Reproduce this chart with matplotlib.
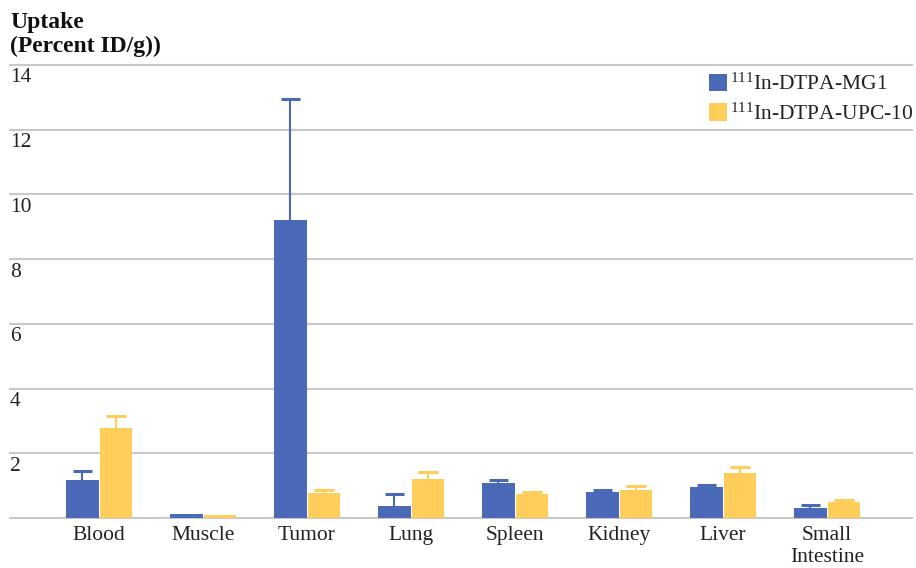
import matplotlib
matplotlib.use("Agg")
import matplotlib.pyplot as plt
import numpy as np

categories = ["Blood", "Muscle", "Tumor", "Lung", "Spleen", "Kidney", "Liver", "Small\nIntestine"]
mg1_values = [1.18, 0.12, 9.20, 0.37, 1.08, 0.80, 0.96, 0.31]
mg1_errors = [0.27, 0.0, 3.74, 0.36, 0.10, 0.08, 0.07, 0.10]
upc_values = [2.79, 0.08, 0.77, 1.21, 0.74, 0.87, 1.39, 0.50]
upc_errors = [0.37, 0.0, 0.11, 0.20, 0.07, 0.13, 0.19, 0.07]
series_labels = [r"$^{111}$In-DTPA-MG1", r"$^{111}$In-DTPA-UPC-10"]
y_ticks = [0, 2, 4, 6, 8, 10, 12, 14]
y_tick_labels = ["", "2", "4", "6", "8", "10", "12", "14"]

plt.rcParams["font.family"] = ["Liberation Serif", "DejaVu Serif"]
plt.rcParams["mathtext.fontset"] = "custom"
plt.rcParams["mathtext.rm"] = "Liberation Serif"
plt.rcParams["mathtext.it"] = "Liberation Serif"

blue = "#4A69B6"
yellow = "#FFCE5A"
grid_c = "#C9C9C9"

W, H = 916, 568
fig = plt.figure(figsize=(W / 100, H / 100), dpi=100)
ax = fig.add_axes([10 / W, 1 - 518 / H, (912 - 10) / W, (518 - 65) / H])

x = np.arange(len(categories))
bw = 0.31
off = 0.16
cap_half = 0.095
ax.bar(x - off, mg1_values, bw, color=blue, label=series_labels[0], zorder=3)
ax.bar(x + off, upc_values, bw, color=yellow, label=series_labels[1], zorder=3)

for xs, vals, errs, col in [(x - off, mg1_values, mg1_errors, blue),
                            (x + off, upc_values, upc_errors, yellow)]:
    for xi, v, e in zip(xs, vals, errs):
        if e <= 0:
            continue
        ax.vlines(xi, v, v + e, color=col, lw=1.5, zorder=4)
        ax.hlines(v + e, xi - cap_half, xi + cap_half, color=col, lw=2.2, zorder=4)

ax.set_xlim(-0.856, 7.817)
ax.set_ylim(0, 14)
for v in y_ticks:
    ax.axhline(v, color=grid_c, lw=1.5, zorder=1, clip_on=False)
for v, lab in zip(y_ticks, y_tick_labels):
    if lab:
        ax.annotate(lab, xy=(0, v), xycoords=("axes fraction", "data"),
                    xytext=(0, -2.5), textcoords="offset points",
                    ha="left", va="top", fontsize=15.5, color="#222222")

ax.set_yticks([])
ax.set_xticks(x)
ax.set_xticklabels(categories, fontsize=15.5, color="#222222", linespacing=1.22)
ax.tick_params(axis="x", length=0, pad=6)
for s in ax.spines.values():
    s.set_visible(False)

fig.text(10 / W, 1 - 12 / H, "Uptake\n(Percent ID/g))", ha="left", va="top",
         fontsize=17, fontweight="bold", color="#111111", linespacing=1.2)

leg = ax.legend(loc="upper right", bbox_to_anchor=(1.016, 1.01), frameon=False,
                fontsize=15.5, handlelength=0.85, handleheight=0.85,
                handletextpad=0.15, labelspacing=0.4, borderaxespad=0.2)
for t in leg.get_texts():
    t.set_color("#222222")

fig.savefig("out.png", dpi=100)
